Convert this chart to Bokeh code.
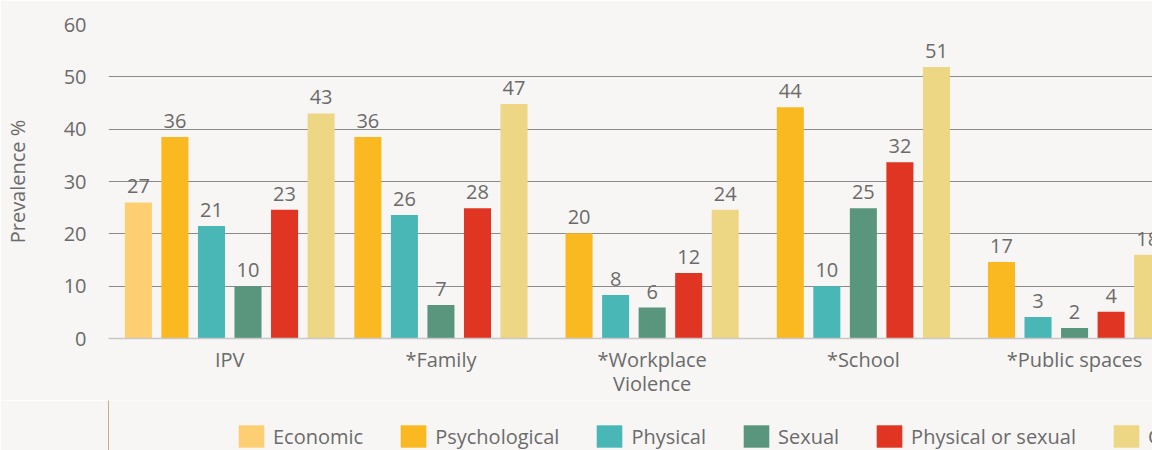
import math
from bokeh.plotting import figure
from bokeh.layouts import column
from bokeh.models import Range1d, FixedTicker, ColumnDataSource, Legend, LegendItem, LinearAxis
from bokeh.core.properties import value
from bokeh.embed import file_html
from bokeh.resources import INLINE

# ---- data ----
categories = ["IPV", "*Family", "*Workplace\nViolence", "*School", "*Public spaces"]
series_names = ["Economic", "Psychological", "Physical", "Sexual", "Physical or sexual", "Overall"]

economic = [26.0, None, None, None, None]
psychological = [38.5, 38.5, 20.1, 44.2, 14.6]
physical = [21.5, 23.6, 8.3, 10.0, 4.1]
sexual = [10.0, 6.4, 5.9, 24.9, 2.0]
physical_or_sexual = [24.6, 24.9, 12.5, 33.7, 5.1]
overall = [43.0, 44.8, 24.6, 51.9, 16.0]

economic_labels = ["27", None, None, None, None]
psychological_labels = ["36", "36", "20", "44", "17"]
physical_labels = ["21", "26", "8", "10", "3"]
sexual_labels = ["10", "7", "6", "25", "2"]
physical_or_sexual_labels = ["23", "28", "12", "32", "4"]
overall_labels = ["43", "47", "24", "51", "18"]

y_ticks = [0, 10, 20, 30, 40, 50, 60]
y_title = "Prevalence %"

colors = ["#FECE72", "#FBB921", "#4AB7B7", "#5A967D", "#E03522", "#EED784"]

all_values = [economic, psychological, physical, sexual, physical_or_sexual, overall]
all_labels = [economic_labels, psychological_labels, physical_labels, sexual_labels,
              physical_or_sexual_labels, overall_labels]

# ---- style ----
BG = "#F7F6F4"
TXT = "#6B6B6B"
FONT = "Open Sans"
STEP = 0.173   # spacing between bars inside a group (x units)
BAR_W = 0.128

p = figure(frame_width=1044, frame_height=314,
           x_range=Range1d(-0.574, 4.369), y_range=Range1d(0, 60),
           output_backend="svg", toolbar_location=None,
           min_border_left=108, min_border_right=0, min_border_top=24, min_border_bottom=62,
           background_fill_color=BG, border_fill_color=BG, outline_line_color=None)

for s, (vals, labs) in enumerate(zip(all_values, all_labels)):
    xs, ys, ts = [], [], []
    for i in range(len(categories)):
        if vals[i] is None:
            continue
        present = [k for k in range(len(all_values)) if all_values[k][i] is not None]
        n = len(present)
        k = present.index(s)
        xs.append(i + (k - (n - 1) / 2) * STEP)
        ys.append(vals[i])
        ts.append(labs[i])
    src = ColumnDataSource(dict(x=xs, top=ys, label=ts))
    p.vbar(x="x", top="top", width=BAR_W, bottom=0, source=src,
           fill_color=colors[s], line_color=None)
    p.text(x="x", y="top", text="label", source=src,
           text_font=value(FONT), text_font_size="20px", text_color=TXT,
           text_align="center", text_baseline="alphabetic", y_offset=-16)

# y axis
p.yaxis.ticker = FixedTicker(ticks=y_ticks)
p.yaxis.axis_line_color = None
p.yaxis.major_tick_line_color = None
p.yaxis.minor_tick_line_color = None
p.yaxis.major_label_standoff = 16
p.yaxis.major_label_text_font = FONT
p.yaxis.major_label_text_font_size = "20px"
p.yaxis.major_label_text_color = TXT
p.yaxis.axis_label = y_title
p.yaxis.axis_label_standoff = 30
p.yaxis.axis_label_text_font = FONT
p.yaxis.axis_label_text_font_size = "20px"
p.yaxis.axis_label_text_font_style = "normal"
p.yaxis.axis_label_text_color = TXT

# x axis: first line of each category, plus a second axis for the continuation lines
first_lines = {i: c.split("\n")[0] for i, c in enumerate(categories)}
second_lines = {i: c.split("\n")[1] for i, c in enumerate(categories) if "\n" in c}

def style_x(ax, standoff):
    ax.major_tick_line_color = None
    ax.minor_tick_line_color = None
    ax.major_label_standoff = standoff
    ax.major_label_text_font = FONT
    ax.major_label_text_font_size = "20px"
    ax.major_label_text_color = TXT

p.xaxis.ticker = FixedTicker(ticks=list(range(len(categories))))
p.xaxis.major_label_overrides = first_lines
p.xaxis.axis_line_color = "#C8C8C8"
p.xaxis.axis_line_width = 1.5
style_x(p.xaxis[0], 1)

ax2 = LinearAxis(ticker=FixedTicker(ticks=list(second_lines.keys())),
                 major_label_overrides=second_lines, axis_line_color=None)
style_x(ax2, -12)
p.add_layout(ax2, "below")

p.xgrid.grid_line_color = None
p.ygrid.ticker = FixedTicker(ticks=y_ticks[1:])
p.ygrid.grid_line_color = "#8A8A8A"
p.ygrid.grid_line_width = 1.2

# ---- legend strip (separate small figure, legend drawn inside its frame) ----
lg = figure(width=1152, height=50, x_range=Range1d(0, 1), y_range=Range1d(0, 1),
            x_axis_type=None, y_axis_type=None,
            output_backend="svg", toolbar_location=None, min_border=0,
            background_fill_color=BG, border_fill_color=BG, outline_line_color=None)
lg.grid.visible = False
items = []
for s, name in enumerate(series_names):
    r = lg.vbar(x=[-5], top=[1], width=0.1, fill_color=colors[s], line_color=None)
    items.append(LegendItem(label=name, renderers=[r]))
legend = Legend(items=items, orientation="horizontal", location=(127, 0),
                spacing=34, label_standoff=6, glyph_width=32, glyph_height=28,
                padding=0, margin=0,
                background_fill_alpha=0, border_line_alpha=0,
                label_text_font=FONT, label_text_font_size="20px", label_text_color=TXT)
lg.add_layout(legend)

layout = column(p, lg, spacing=0)
open("out.html", "w").write(file_html(layout, INLINE))
